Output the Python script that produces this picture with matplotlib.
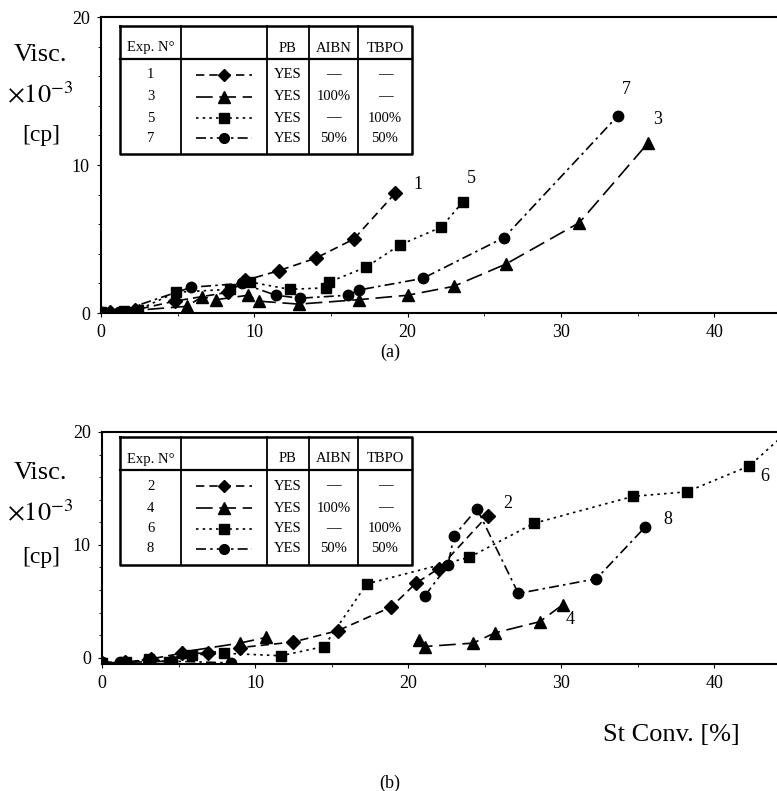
import numpy as np
import matplotlib
matplotlib.use("Agg")
import matplotlib.pyplot as plt
from matplotlib.ticker import MultipleLocator

plt.rcParams['font.family'] = ['Liberation Serif', 'DejaVu Serif']
plt.rcParams['mathtext.fontset'] = 'stix'

nan = np.nan
# ---------------- Panel (a) data ----------------
x1 = [0.0, 0.6, 2.2, 4.8, 8.3, 9.4, 11.6, 14.0, 16.5, 19.2]
y1 = [0.0, 0.05, 0.2, 0.8, 1.4, 2.2, 2.86, 3.7, 5.0, 8.1]
x3 = [0.0, 1.5, 2.5, 5.6, 6.6, 7.5, 9.6, 10.3, 12.9, 16.8, 20.0, 23.0, 26.4, 31.2, 35.7]
y3 = [0.0, 0.1, 0.2, 0.45, 1.1, 0.9, 1.2, 0.8, 0.6, 0.9, 1.2, 1.8, 3.3, 6.1, 11.5]
x5 = [0.0, 1.5, 2.4, 4.9, 8.4, 9.7, 12.3, 14.7, 14.9, 17.3, 19.5, 22.2, 23.6]
y5 = [0.1, 0.15, 0.2, 1.4, 1.6, 2.1, 1.6, 1.7, 2.1, 3.1, 4.6, 5.8, 7.5]
x7 = [0.0, 1.2, 5.9, 9.2, 11.4, 13.0, 16.1, 16.8, 21.0, 26.3, 33.7]
y7 = [0.0, 0.1, 1.74, 2.0, 1.2, 1.0, 1.2, 1.55, 2.34, 5.1, 13.3]

# ---------------- Panel (b) data ----------------
x2 = [0.0, 1.5, 3.2, 5.2, 6.9, 9.0, 12.5, 15.4, 18.9, 20.5, 22.0, 25.2]
y2 = [-0.45, -0.4, -0.1, 0.4, 0.4, 0.9, 1.4, 2.4, 4.5, 6.6, 7.9, 12.6]
x4 = [0.0, 1.6, 4.6, 5.2, 9.0, 10.7, nan, 20.7, 21.1, 24.25, 25.65, 28.6, 30.1]
y4 = [-0.45, -0.4, -0.3, 0.5, 1.3, 1.8, nan, 1.6, 1.0, 1.3, 2.2, 3.2, 4.7]
x6 = [0.0, 1.6, 3.1, 4.4, 5.9, 8.0, 11.7, 14.5, 17.3, 24.0, 28.2, 34.7, 38.2, 42.3, 45.0]
y6 = [-0.45, -0.4, -0.1, -0.4, 0.26, 0.4, 0.18, 1.0, 6.55, 8.9, 11.9, 14.3, 14.7, 17.0, 20.3]
x8 = [0.0, 1.2, 3.0, 4.6, 8.4, nan, 21.1, 22.6, 23.0, 24.5, 27.2, 32.3, 35.5]
y8 = [-0.4, -0.4, -0.2, -0.3, -0.45, nan, 5.5, 8.2, 10.8, 13.2, 5.7, 7.0, 11.6]

# curve labels (text, x, y)
labels_a = [("1", 20.4, 8.1), ("5", 23.9, 8.5), ("7", 34.0, 14.5), ("3", 36.0, 12.5)]
labels_b = [("2", 26.2, 12.9), ("8", 36.7, 11.5), ("4", 30.3, 2.6), ("6", 43.0, 15.3)]

# table contents
header = ["Exp. N\u00b0", "", "PB", "AIBN", "TBPO"]
rows_a = [["1", "YES", "\u2014", "\u2014"], ["3", "YES", "100%", "\u2014"],
          ["5", "YES", "\u2014", "100%"], ["7", "YES", "50%", "50%"]]
rows_b = [["2", "YES", "\u2014", "\u2014"], ["4", "YES", "100%", "\u2014"],
          ["6", "YES", "\u2014", "100%"], ["8", "YES", "50%", "50%"]]

# styles: (linestyle, marker, markersize)
styles = [((0, (5, 3)), 'D', 7),
          ((0, (10, 4)), '^', 8.5),
          ((0, (1.5, 2.5)), 's', 7.5),
          ((0, (6, 2.5, 1.5, 2.5)), 'o', 7.5)]

W, H = 777, 791
fig = plt.figure(figsize=(W / 100, H / 100), dpi=100)


def rect(l, t, r, b):
    return [l / W, 1 - b / H, (r - l) / W, (b - t) / H]


def style_axes(ax, ymin):
    ax.set_xlim(0, 44.1)
    ax.set_ylim(ymin, 20)
    ax.spines['right'].set_visible(False)
    for s in ['left', 'bottom', 'top']:
        ax.spines[s].set_linewidth(1.5)
    ax.xaxis.set_major_locator(MultipleLocator(10))
    ax.xaxis.set_minor_locator(MultipleLocator(5))
    ax.yaxis.set_major_locator(MultipleLocator(10))
    ax.yaxis.set_minor_locator(MultipleLocator(2))
    ax.tick_params(which='major', length=3, width=0.8, labelsize=13, direction='out', pad=5)
    ax.tick_params(which='minor', length=2, width=0.6, direction='out')
    ax.tick_params(axis='x', which='both', top=False)


ax_a = fig.add_axes(rect(101, 17, 777, 313))
ax_b = fig.add_axes(rect(102, 432, 777, 664))

series_a = [(x1, y1), (x3, y3), (x5, y5), (x7, y7)]
series_b = [(x2, y2), (x4, y4), (x6, y6), (x8, y8)]
for ax, series, labs, ymin in [(ax_a, series_a, labels_a, 0), (ax_b, series_b, labels_b, -0.55)]:
    style_axes(ax, ymin)
    for (xs, ys), (ls, mk, ms) in zip(series, styles):
        ax.plot(xs, ys, linestyle=ls, color='black', lw=1.2, marker=mk,
                markersize=ms, markerfacecolor='black', markeredgecolor='black',
                clip_on=True, zorder=3)
    for t, tx, ty in labs:
        ax.text(tx, ty, t, fontsize=13, ha='left', va='bottom')
    ax.set_yticklabels([])
    ax.set_yticks([0, 10, 20])
    ax.set_yticklabels(['0', '10', '20'])

# overlay axes in pixel coordinates for table/texts
ov = fig.add_axes([0, 0, 1, 1])
ov.set_xlim(0, W)
ov.set_ylim(H, 0)
ov.axis('off')
ov.patch.set_alpha(0)

# y-axis captions
for off, ys in [(0, (55, 95, 135)), (0, (473, 513, 558))]:
    ov.text(40, ys[0], "Visc.", fontsize=19, ha='center', va='center')
    ov.text(40, ys[1], r"$\times10^{-3}$", fontsize=19, ha='center', va='center')
    ov.text(41, ys[2], "[cp]", fontsize=17, ha='center', va='center')

ov.text(740, 735, "St Conv. [%]", fontsize=19, ha='right', va='center')
ov.text(390, 352, "(a)", fontsize=13, ha='center', va='center')
ov.text(390, 783, "(b)", fontsize=13, ha='center', va='center')

# tables
col_edges = [120, 181, 267, 309, 358, 412]
col_centers = [(col_edges[i] + col_edges[i + 1]) / 2 for i in range(5)]
row_ys = [75, 97, 118, 138]
for dy, rows in [(0, rows_a), (411, rows_b)]:
    top, hl, bot = 26 + dy, 59 + dy, 154 + dy
    ov.plot([col_edges[0], col_edges[-1], col_edges[-1], col_edges[0], col_edges[0]],
            [top, top, bot, bot, top], color='black', lw=1.8)
    ov.plot([col_edges[0], col_edges[-1]], [hl, hl], color='black', lw=1.6)
    for cx in col_edges[1:-1]:
        ov.plot([cx, cx], [top, bot], color='black', lw=1.3)
    for i, h in enumerate(header):
        if h:
            ov.text(col_centers[i], 48 + dy, h, fontsize=10.5, ha='center', va='center')
    for r, (row, (ls, mk, ms)) in enumerate(zip(rows, styles)):
        yy = row_ys[r] + dy
        ov.text(col_centers[0], yy, row[0], fontsize=10.5, ha='center', va='center')
        for j, v in enumerate(row[1:]):
            ov.text(col_centers[j + 2], yy, v, fontsize=10.5, ha='center', va='center')
        ov.plot([196, 252], [yy, yy], linestyle=ls, color='black', lw=1.2)
        ov.plot([224], [yy], marker=mk, markersize=ms - 0.5, color='black', linestyle='none')

fig.savefig("out.png", dpi=100)
